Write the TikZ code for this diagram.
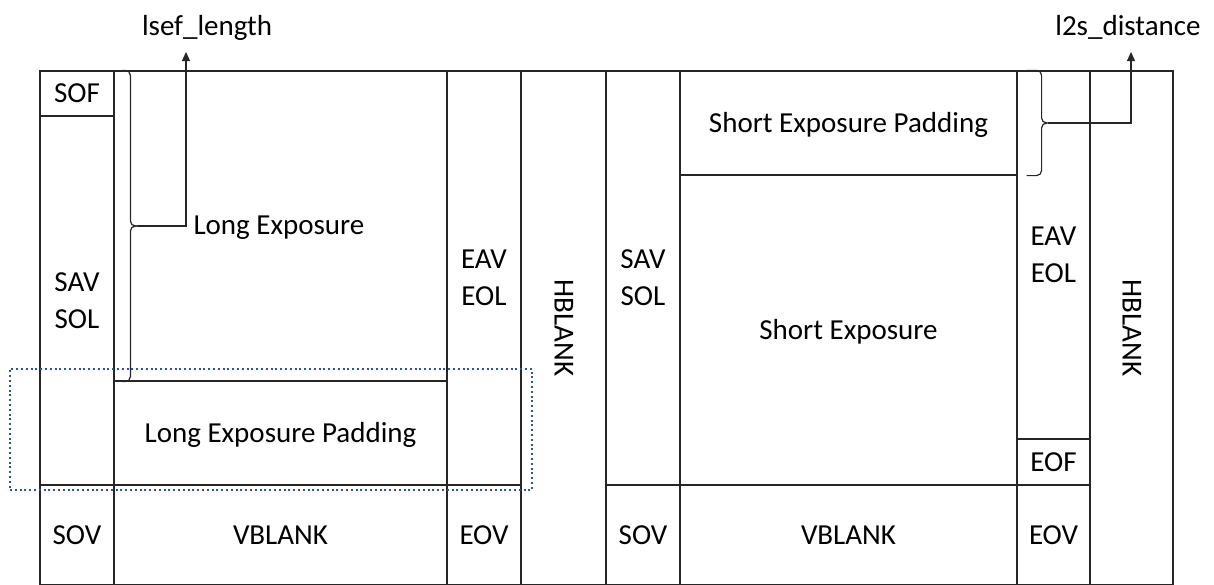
\documentclass[tikz,border=0pt]{standalone}
\usepackage{fontspec}
\setmainfont{Carlito}
\usetikzlibrary{arrows.meta}

\definecolor{FrameLine}{gray}{0.15}
\definecolor{SelectBlue}{RGB}{47,85,151}

\begin{document}
\begin{tikzpicture}[x=1pt,y=-1pt,font=\fontsize{29}{37}\selectfont,
    cell/.style={draw=FrameLine,line width=1.2pt,inner sep=0pt,text height=18pt,text depth=0pt},
    stack/.style={draw=FrameLine,line width=1.2pt,inner sep=0pt,align=center},
    bracemark/.style={line width=1.2pt,draw=FrameLine,rounded corners=5pt},
    pointer/.style={-{Triangle[length=9pt,width=8pt]},line width=1.2pt,draw=FrameLine}]
  \clip (0,0) rectangle (1214,584);

  % long exposure frame
  \node[cell,minimum width=74pt,minimum height=45pt] (sofl) at (77,93.5) {SOF};
  \node[stack,minimum width=74pt,minimum height=369pt] (savl) at (77,300.5) {SAV\\SOL};
  \node[cell,minimum width=74pt,minimum height=100pt] (sovl) at (77,535) {SOV};
  \node[cell,minimum width=333pt,minimum height=310pt] (lexp) at (280.5,226) {};
  \node[cell,minimum width=333pt,minimum height=104pt] (lpad) at (280.5,433) {Long Exposure Padding};
  \node[cell,minimum width=333pt,minimum height=100pt] (vbll) at (280.5,535) {VBLANK};
  \node[stack,minimum width=74pt,minimum height=414pt] (eavl) at (484,278) {EAV\\EOL};
  \node[cell,minimum width=74pt,minimum height=100pt] (eovl) at (484,535) {EOV};
  \node[cell,rotate=-90,minimum width=514pt,minimum height=85pt] (hbll) at (563.5,328) {HBLANK};

  % short exposure frame
  \node[stack,minimum width=74pt,minimum height=414pt] (savr) at (643,278) {SAV\\SOL};
  \node[cell,minimum width=74pt,minimum height=100pt] (sovr) at (643,535) {SOV};
  \node[cell,minimum width=337pt,minimum height=104pt] (spad) at (848.5,123) {Short Exposure Padding};
  \node[cell,minimum width=337pt,minimum height=310pt] (sexp) at (848.5,330) {Short Exposure};
  \node[cell,minimum width=337pt,minimum height=100pt] (vblr) at (848.5,535) {VBLANK};
  \node[stack,minimum width=73pt,minimum height=368pt] (eavr) at (1053.5,255) {EAV\\EOL};
  \node[cell,minimum width=73pt,minimum height=46pt] (eofr) at (1053.5,462) {EOF};
  \node[cell,minimum width=73pt,minimum height=100pt] (eovr) at (1053.5,535) {EOV};
  \node[cell,rotate=-90,minimum width=514pt,minimum height=83pt] (hblr) at (1131.5,328) {HBLANK};

  % padding selection
  \node[draw=SelectBlue,line width=2pt,dash pattern=on 2pt off 2.8pt,inner sep=0pt,
        minimum width=522pt,minimum height=121pt] (lsel) at (271,429.5) {};

  % braces and pointers
  \coordinate (ltip) at ([xshift=25pt]lexp.west);
  \coordinate (stip) at ([xshift=30pt]spad.east);
  \draw[bracemark] ([xshift=9pt]lexp.north west) -| ([xshift=17pt]lexp.west) -- (ltip);
  \draw[bracemark] ([xshift=9pt]lexp.south west) -| ([xshift=17pt]lexp.west) -- (ltip);
  \draw[bracemark] ([xshift=9pt]spad.north east) -| ([xshift=24pt]spad.east) -- (stip);
  \draw[bracemark] ([xshift=9pt]spad.south east) -| ([xshift=24pt]spad.east) -- (stip);
  \coordinate (lsefend) at (186,52);
  \coordinate (l2send) at (1131,52);
  \node[anchor=base west] (lelabel) at (190,234) {Long Exposure};
  \node[anchor=base] (lsef) at (207,35) {lsef\_length};
  \node[anchor=base] (l2s) at (1128,35) {l2s\_distance};
  \draw[pointer] (ltip) -| (lsefend);
  \draw[pointer] (stip) -| (l2send);
\end{tikzpicture}
\end{document}
